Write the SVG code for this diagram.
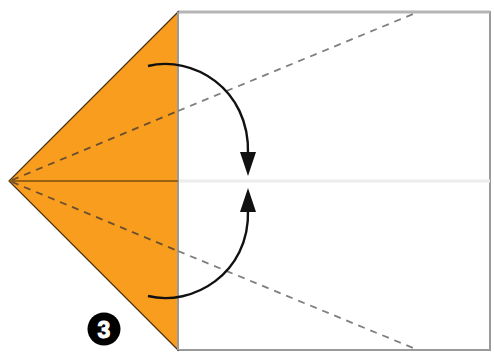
<svg xmlns="http://www.w3.org/2000/svg" width="494" height="353" viewBox="0 0 494 353">
<style>
.paper{fill:#fff;stroke:#9a9a9a;stroke-width:2}
.flap{fill:#F89D1E;stroke:#4a3010;stroke-width:1.2;stroke-linejoin:miter}
.dash-in{stroke:#6a5030;stroke-width:1.8;stroke-dasharray:7 6;fill:none}
.dash-out{stroke:#7f7f7f;stroke-width:1.8;stroke-dasharray:7 6;fill:none}
.arrow{fill:none;stroke:#111;stroke-width:2.4}
.head{fill:#111}
</style>
<g id="paper">
<rect class="paper" x="178" y="12" width="312" height="338"/>
<line x1="178" y1="12" x2="490" y2="12" stroke="#b5b5b5" stroke-width="3"/>
<line x1="178" y1="181" x2="490" y2="181" stroke="#ececec" stroke-width="3"/>
</g>
<g id="flap">
<polygon class="flap" points="178,12 9,181 178,350"/>
<line x1="178" y1="12" x2="178" y2="350" stroke="#9a9a9a" stroke-width="2"/>
<line x1="9" y1="181" x2="178" y2="181" stroke="#7a4f10" stroke-width="1.6"/>
</g>
<g id="creases">
<line class="dash-in" x1="12" y1="180" x2="178" y2="111"/>
<line class="dash-out" x1="178" y1="111" x2="418" y2="12"/>
<line class="dash-in" x1="12" y1="182" x2="178" y2="251"/>
<line class="dash-out" x1="178" y1="251" x2="418" y2="350"/>
</g>
<g id="connectors">
<path class="arrow" d="M148,66 C192,55 250,88 248,154"/>
<polygon class="head" points="240,152 256,152 248,176"/>
<path class="arrow" d="M148,296 C192,307 250,274 248,210"/>
<polygon class="head" points="240,212 256,212 248,188"/>
</g>
<g id="step">
<circle cx="104" cy="329" r="16.5" fill="#000"/>
<text x="104" y="337.5" text-anchor="middle" font-family="Liberation Sans, Arial, sans-serif" font-weight="bold" font-size="23" fill="#fff" stroke="#fff" stroke-width="1">3</text>
</g>
</svg>
